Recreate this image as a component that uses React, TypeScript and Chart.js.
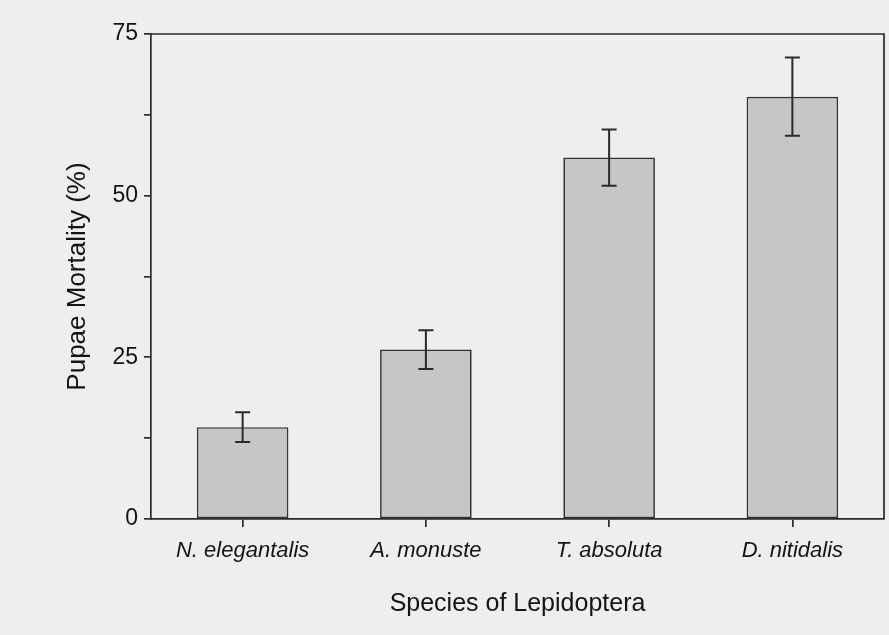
import React, { useEffect, useRef } from "react";
import { Chart, registerables } from "chart.js";

Chart.register(...registerables);

const categories = ["N. elegantalis", "A. monuste", "T. absoluta", "D. nitidalis"];
const means = [14.2, 26.2, 55.9, 65.3];
const errors = [2.3, 3.0, 4.35, 6.05];
const yTickValues = [0, 25, 50, 75];

const FONT = "'Liberation Sans', Arial, Helvetica, sans-serif";
const INK = "#2a2a2a";
const TEXT = "#141414";

const bgPlugin = {
  id: "paperBg",
  beforeDraw(chart: any) {
    const { ctx, width, height } = chart;
    ctx.save();
    ctx.fillStyle = "#eeeeed";
    ctx.fillRect(0, 0, width, height);
    ctx.restore();
  },
};

const errorBarPlugin = {
  id: "errorBars",
  afterDatasetsDraw(chart: any) {
    const { ctx, scales } = chart;
    const xs = scales.x;
    const ys = scales.y;
    ctx.save();
    ctx.strokeStyle = INK;
    ctx.lineWidth = 2;
    const cap = 7.5;
    means.forEach((m, i) => {
      const x = xs.getPixelForValue(i);
      const yt = ys.getPixelForValue(m + errors[i]);
      const yb = ys.getPixelForValue(m - errors[i]);
      ctx.beginPath();
      ctx.moveTo(x, yt);
      ctx.lineTo(x, yb);
      ctx.moveTo(x - cap, yt);
      ctx.lineTo(x + cap, yt);
      ctx.moveTo(x - cap, yb);
      ctx.lineTo(x + cap, yb);
      ctx.stroke();
    });
    ctx.restore();
  },
};

const framePlugin = {
  id: "frame",
  afterDraw(chart: any) {
    const { ctx, chartArea } = chart;
    ctx.save();
    ctx.strokeStyle = INK;
    ctx.lineWidth = 1.7;
    ctx.beginPath();
    ctx.moveTo(chartArea.left, chartArea.top);
    ctx.lineTo(chartArea.right, chartArea.top);
    ctx.lineTo(chartArea.right, chartArea.bottom);
    ctx.stroke();
    ctx.restore();
  },
};

export default function App() {
  const ref = useRef<HTMLCanvasElement>(null);

  useEffect(() => {
    if (!ref.current) return;
    const chart = new Chart(ref.current, {
      type: "bar",
      data: {
        labels: categories,
        datasets: [
          {
            data: means,
            backgroundColor: "#c6c6c6",
            borderColor: "#353535",
            borderWidth: 1.7,
            borderSkipped: false,
            barPercentage: 0.5,
            categoryPercentage: 1,
          },
        ],
      },
      options: {
        responsive: false,
        animation: false,
        events: [],
        layout: { padding: { top: 34, right: 5, left: 0, bottom: 0 } },
        plugins: {
          legend: { display: false },
          tooltip: { enabled: false },
          title: { display: false },
        },
        scales: {
          x: {
            type: "category",
            afterFit(scale: any) {
              scale.height = 116;
            },
            grid: {
              display: true,
              offset: false,
              drawOnChartArea: false,
              drawTicks: true,
              tickLength: 8,
              color: INK,
              lineWidth: 1.7,
            },
            border: { display: true, color: INK, width: 1.7 },
            ticks: {
              color: TEXT,
              padding: 11,
              font: { family: FONT, size: 22, style: "italic" },
            },
            title: {
              display: true,
              text: "Species of Lepidoptera",
              color: TEXT,
              font: { family: FONT, size: 25 },
              padding: { top: 0, bottom: 16 },
            },
          },
          y: {
            min: 0,
            max: 75,
            afterFit(scale: any) {
              scale.width = 151;
            },
            afterBuildTicks(scale: any) {
              const t: any[] = [];
              for (let i = 0; i < yTickValues.length; i++) {
                t.push({ value: yTickValues[i] });
                if (i < yTickValues.length - 1) {
                  t.push({ value: (yTickValues[i] + yTickValues[i + 1]) / 2 });
                }
              }
              scale.ticks = t;
            },
            grid: {
              display: true,
              drawOnChartArea: false,
              drawTicks: true,
              tickLength: 7,
              color: INK,
              lineWidth: 1.7,
            },
            border: { display: true, color: INK, width: 1.7 },
            ticks: {
              color: TEXT,
              padding: 6,
              autoSkip: false,
              font: { family: FONT, size: 23 },
              callback: (v: any) => (yTickValues.includes(Number(v)) ? String(v) : ""),
            },
            title: {
              display: true,
              text: "Pupae Mortality (%)",
              color: TEXT,
              font: { family: FONT, size: 26 },
              padding: { top: 62, bottom: 0 },
            },
          },
        },
      },
      plugins: [bgPlugin, errorBarPlugin, framePlugin],
    } as any);
    return () => chart.destroy();
  }, []);

  return (
    <div style={{ position: "fixed", left: 0, top: 0, width: 889, height: 635 }}>
      <canvas ref={ref} width={889} height={635} style={{ display: "block" }} />
    </div>
  );
}
